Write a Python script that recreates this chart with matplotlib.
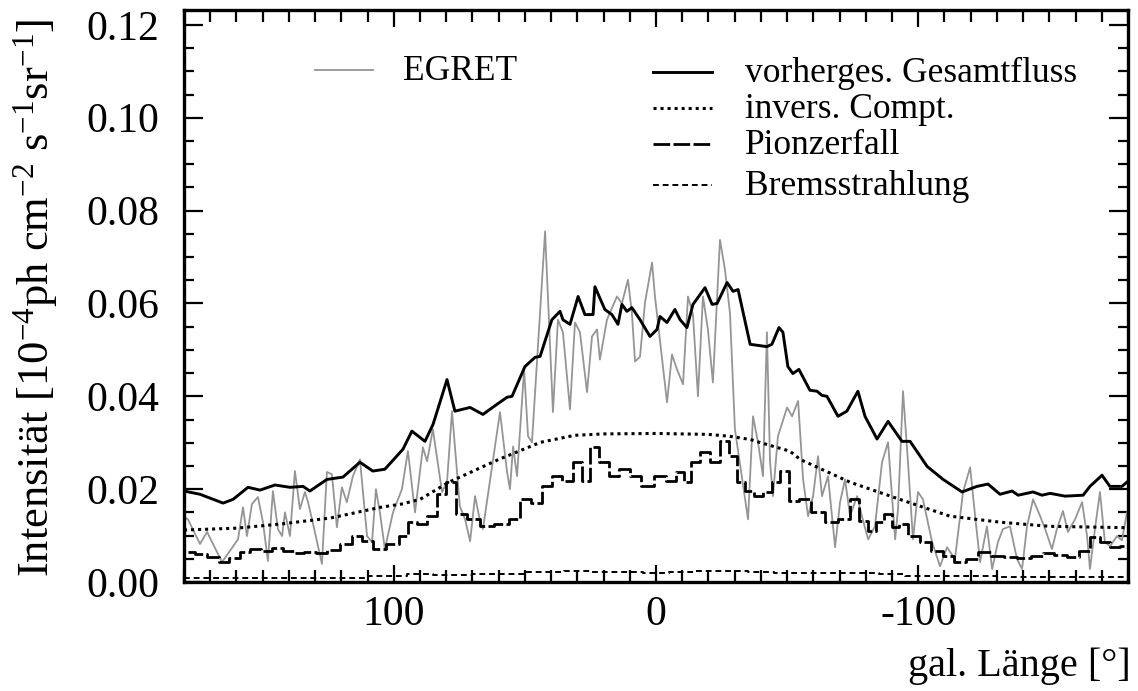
"""Galactic longitude profile: EGRET intensity vs. model components."""

import matplotlib

matplotlib.use("Agg")
import matplotlib.pyplot as plt
from matplotlib.ticker import FormatStrFormatter, MultipleLocator

plt.rcParams["font.family"] = ["Liberation Serif", "DejaVu Serif"]
plt.rcParams["mathtext.fontset"] = "custom"
plt.rcParams["mathtext.rm"] = "Liberation Serif"
plt.rcParams["mathtext.default"] = "rm"
plt.rcParams["axes.unicode_minus"] = False

# EGRET measured intensity (gal. longitude in deg, intensity)
egret_l = [180.0, 178.5, 173.9, 171.2, 169.3, 165.5, 162.5, 159.4, 157.5, 156.0,
           154.1, 151.8, 149.9, 148.0, 146.1, 144.2, 142.6, 141.5, 139.6, 137.7,
           135.8, 133.9, 132.7, 130.1, 127.4, 125.5, 123.6, 121.7, 119.8, 117.9,
           115.6, 112.9, 110.2, 108.3, 106.8, 105.3, 103.4, 100.3, 96.9, 94.6,
           91.9, 88.9, 87.3, 85.1, 81.6, 79.7, 77.8, 74.8, 72.8, 70.9,
           69.0, 67.1, 66.0, 59.5, 56.8, 55.7, 54.5, 53.0, 50.3, 48.8,
           47.3, 42.3, 39.3, 37.4, 35.5, 32.8, 30.9, 29.0, 26.3, 24.4,
           22.5, 21.4, 18.7, 14.9, 13.0, 10.7, 9.2, 8.0, 6.1, 4.2,
           1.5, 0.4, -4.2, -6.1, -8.0, -10.3, -12.2, -14.1, -16.0, -17.9,
           -19.8, -21.7, -24.4, -26.3, -28.2, -30.1, -35.1, -37.0, -38.9, -40.8,
           -42.3, -43.5, -44.6, -46.5, -50.0, -51.9, -54.2, -56.1, -58.0, -59.9,
           -61.8, -63.3, -65.6, -68.3, -70.2, -72.1, -74.0, -76.7, -78.6, -80.9,
           -83.5, -86.2, -88.5, -91.2, -92.3, -94.2, -96.1, -98.0, -99.9, -101.8,
           -105.3, -108.3, -111.0, -114.0, -117.1, -119.8, -121.7, -123.6, -126.2, -128.2,
           -130.4, -132.3, -135.0, -137.7, -139.6, -141.5, -143.8, -146.5, -148.4, -151.0,
           -152.9, -155.2, -157.1, -159.8, -162.5, -164.4, -165.5, -167.4, -169.3, -171.2,
           -173.2, -175.8, -177.7, -179.6]
egret_i = [0.0140, 0.0135, 0.0082, 0.0108, 0.0086, 0.0043, 0.0067, 0.0092, 0.0161, 0.0099,
           0.0168, 0.0183, 0.0129, 0.0045, 0.0196, 0.0114, 0.0099, 0.0150, 0.0099, 0.0239,
           0.0157, 0.0194, 0.0172, 0.0108, 0.0039, 0.0237, 0.0232, 0.0118, 0.0204, 0.0172,
           0.0228, 0.0264, 0.0099, 0.0086, 0.0200, 0.0150, 0.0071, 0.0150, 0.0200, 0.0282,
           0.0150, 0.0290, 0.0260, 0.0329, 0.0194, 0.0215, 0.0368, 0.0163, 0.0135, 0.0088,
           0.0185, 0.0131, 0.0114, 0.0366, 0.0237, 0.0200, 0.0292, 0.0228, 0.0458, 0.0314,
           0.0301, 0.0755, 0.0366, 0.0565, 0.0538, 0.0372, 0.0559, 0.0538, 0.0409, 0.0529,
           0.0544, 0.0479, 0.0565, 0.0615, 0.0600, 0.0651, 0.0580, 0.0475, 0.0485, 0.0602,
           0.0688, 0.0615, 0.0387, 0.0490, 0.0458, 0.0426, 0.0615, 0.0576, 0.0400, 0.0615,
           0.0544, 0.0430, 0.0737, 0.0673, 0.0580, 0.0329, 0.0135, 0.0357, 0.0301, 0.0228,
           0.0538, 0.0258, 0.0185, 0.0314, 0.0376, 0.0357, 0.0390, 0.0221, 0.0142, 0.0185,
           0.0271, 0.0185, 0.0228, 0.0075, 0.0172, 0.0221, 0.0142, 0.0185, 0.0140, 0.0092,
           0.0120, 0.0258, 0.0301, 0.0092, 0.0157, 0.0411, 0.0258, 0.0092, 0.0194, 0.0178,
           0.0086, 0.0034, 0.0075, 0.0049, 0.0194, 0.0247, 0.0142, 0.0043, 0.0120, 0.0028,
           0.0086, 0.0114, 0.0120, 0.0049, 0.0028, 0.0120, 0.0178, 0.0142, 0.0114, 0.0071,
           0.0114, 0.0153, 0.0108, 0.0135, 0.0172, 0.0099, 0.0028, 0.0114, 0.0194, 0.0086,
           0.0077, 0.0099, 0.0090, 0.0150]

# predicted total flux
total_l = [180.0, 173.9, 165.1, 161.3, 155.6, 151.0, 145.3, 139.6, 134.6, 132.0,
           125.5, 119.4, 112.9, 108.0, 103.4, 96.5, 93.1, 88.1, 85.0, 79.7,
           76.7, 70.9, 66.0, 60.6, 56.8, 54.9, 50.0, 46.1, 44.2, 39.7,
           36.6, 35.5, 32.8, 29.7, 27.1, 24.0, 23.3, 19.5, 16.8, 14.5,
           13.0, 11.1, 9.2, 6.1, 2.3, -0.4, -1.5, -4.2, -7.2, -9.2,
           -11.8, -14.1, -18.7, -21.4, -23.3, -27.1, -29.4, -31.3, -35.9, -42.3,
           -44.2, -46.9, -48.4, -50.3, -52.2, -54.5, -58.7, -61.4, -63.3, -65.2,
           -69.4, -72.8, -77.0, -79.7, -84.3, -88.5, -93.8, -96.9, -103.4, -109.5,
           -116.7, -122.4, -126.6, -131.2, -135.8, -138.1, -143.8, -147.2, -150.3, -156.0,
           -162.9, -165.5, -170.1, -173.1, -177.7, -180.0]
total_i = [0.0196, 0.0189, 0.0170, 0.0178, 0.0204, 0.0198, 0.0209, 0.0204, 0.0206, 0.0196,
           0.0221, 0.0226, 0.0258, 0.0239, 0.0243, 0.0286, 0.0325, 0.0303, 0.0340, 0.0436,
           0.0368, 0.0376, 0.0361, 0.0383, 0.0398, 0.0400, 0.0464, 0.0484, 0.0486, 0.0565,
           0.0583, 0.0565, 0.0555, 0.0615, 0.0576, 0.0576, 0.0636, 0.0587, 0.0576, 0.0555,
           0.0598, 0.0583, 0.0591, 0.0565, 0.0529, 0.0544, 0.0572, 0.0559, 0.0587, 0.0565,
           0.0548, 0.0598, 0.0634, 0.0598, 0.0600, 0.0645, 0.0626, 0.0630, 0.0512, 0.0507,
           0.0512, 0.0548, 0.0538, 0.0464, 0.0449, 0.0458, 0.0413, 0.0411, 0.0402, 0.0400,
           0.0357, 0.0368, 0.0411, 0.0357, 0.0308, 0.0346, 0.0303, 0.0303, 0.0249, 0.0221,
           0.0194, 0.0206, 0.0211, 0.0189, 0.0196, 0.0187, 0.0194, 0.0187, 0.0191, 0.0185,
           0.0187, 0.0206, 0.0230, 0.0206, 0.0206, 0.0217]

# inverse Compton component
ic_l = [180, 160, 143, 124, 105, 97, 90, 79, 60, 44, 31, 20, 0,
        -20, -28, -36, -40, -51, -55, -74, -93, -112, -131, -150, -180]
ic_i = [0.0112, 0.0116, 0.0125, 0.0138, 0.0161, 0.0168, 0.0178, 0.0215, 0.0264, 0.0301,
        0.0316, 0.0319, 0.0320, 0.0318, 0.0314, 0.0307, 0.0300, 0.0282, 0.0264, 0.0215,
        0.0178, 0.0142, 0.0129, 0.0120, 0.0117]

# pion decay component (bin centres)
pion_l = [178.5, 173.5, 168.6, 164.8, 160.6, 156.8, 152.9, 148.7, 144.2, 140.0,
          136.2, 132.0, 127.4, 123.2, 118.2, 113.7, 110.2, 105.3, 100.3, 96.1,
          93.1, 89.2, 85.4, 81.6, 78.2, 74.4, 69.8, 64.5, 58.7, 53.8,
          50.0, 45.4, 41.6, 37.8, 33.6, 29.7, 26.7, 23.3, 19.8, 16.4,
          12.2, 8.0, 3.1, -1.9, -6.1, -9.2, -11.8, -14.9, -18.7, -22.5,
          -26.3, -29.7, -32.4, -35.5, -38.9, -42.7, -46.1, -48.8, -52.6, -56.4,
          -61.8, -67.1, -71.7, -75.9, -79.3, -82.4, -85.4, -88.5, -91.2, -93.8,
          -98.4, -102.6, -107.2, -111.4, -115.9, -120.5, -125.1, -130.1, -135.0, -140.4,
          -145.3, -149.5, -154.1, -159.4, -163.6, -167.4, -171.2, -175.1, -178.5]
pion_i = [0.0065, 0.0060, 0.0054, 0.0043, 0.0052, 0.0065, 0.0071, 0.0067, 0.0073, 0.0067,
          0.0062, 0.0065, 0.0062, 0.0069, 0.0082, 0.0099, 0.0088, 0.0071, 0.0082, 0.0100,
          0.0129, 0.0125, 0.0142, 0.0189, 0.0215, 0.0146, 0.0135, 0.0120, 0.0125, 0.0135,
          0.0178, 0.0170, 0.0206, 0.0228, 0.0217, 0.0258, 0.0217, 0.0290, 0.0258, 0.0228,
          0.0243, 0.0228, 0.0206, 0.0228, 0.0217, 0.0237, 0.0215, 0.0258, 0.0280, 0.0258,
          0.0303, 0.0271, 0.0215, 0.0196, 0.0185, 0.0194, 0.0215, 0.0239, 0.0174, 0.0178,
          0.0150, 0.0129, 0.0135, 0.0178, 0.0131, 0.0110, 0.0129, 0.0146, 0.0118, 0.0125,
          0.0099, 0.0086, 0.0067, 0.0056, 0.0043, 0.0049, 0.0065, 0.0056, 0.0054, 0.0052,
          0.0056, 0.0062, 0.0058, 0.0054, 0.0067, 0.0097, 0.0086, 0.0075, 0.0077]

# bremsstrahlung component
brems_l = [180, 150, 120, 100, 90, 80, 60, 40, 30, 20, 10, 0, -10, -20, -30,
           -40, -50, -60, -70, -80, -90, -100, -120, -140, -160, -180]
brems_i = [0.0008, 0.0008, 0.0009, 0.0012, 0.0018, 0.0016, 0.0018, 0.0021, 0.0024, 0.0022,
           0.0022, 0.0020, 0.0022, 0.0024, 0.0024, 0.0021, 0.0020, 0.0020, 0.0020, 0.0019,
           0.0017, 0.0014, 0.0012, 0.0011, 0.0010, 0.0010]

labels = ["vorherges. Gesamtfluss", "invers. Compt.", "Pionzerfall", "Bremsstrahlung"]

fig = plt.figure(figsize=(11.38, 6.91), dpi=100)
ax = fig.add_axes([0.1617, 0.1577, 0.8295, 0.8278])

styles = {
    "egret": dict(color="#959595", lw=1.3, ls="-"),
    "total": dict(color="black", lw=2.1, ls="-"),
    "ic": dict(color="black", lw=2.2, ls=(0, (1.0, 1.3))),
    "pion": dict(color="black", lw=2.0, ls=(0, (6, 1.2))),
    "brems": dict(color="black", lw=1.4, ls=(0, (3, 2))),
}

ax.plot(egret_l, egret_i, **styles["egret"])
ax.plot(total_l, total_i, **styles["total"])
ax.plot(ic_l, ic_i, **styles["ic"])
ax.plot(pion_l, pion_i, drawstyle="steps-mid", **styles["pion"])
ax.plot(brems_l, brems_i, drawstyle="steps-mid", **styles["brems"])

ax.set_xlim(180, -180)
ax.set_ylim(0, 0.1232)

ax.xaxis.set_major_locator(MultipleLocator(100))
ax.xaxis.set_minor_locator(MultipleLocator(10))
ax.yaxis.set_major_locator(MultipleLocator(0.02))
ax.yaxis.set_minor_locator(MultipleLocator(0.005))
ax.yaxis.set_major_formatter(FormatStrFormatter("%.2f"))
ax.xaxis.set_major_formatter(FormatStrFormatter("%d"))

ax.tick_params(which="both", direction="in", top=True, right=True, width=1.6,
               labelsize=30)
ax.tick_params(axis="x", which="major", length=12.5, pad=10)
ax.tick_params(axis="x", which="minor", length=8.5)
ax.tick_params(axis="y", which="major", length=13.5, pad=18)
ax.tick_params(axis="y", which="minor", length=7)
for sp in ax.spines.values():
    sp.set_linewidth(2.4)

# legend, drawn by hand in axes fraction
def legend_row(x0, x1, xt, y, text, style):
    ax.plot([x0, x1], [y, y], transform=ax.transAxes, clip_on=False, **style)
    ax.text(xt, y - 0.017, text, transform=ax.transAxes, fontsize=25.5,
            va="baseline", ha="left")

legend_row(0.139, 0.200, 0.232, 0.895, "EGRET", styles["egret"])
rows_y = [0.892, 0.829, 0.766, 0.694]
for y, txt, key in zip(rows_y, labels, ["total", "ic", "pion", "brems"]):
    legend_row(0.497, 0.559, 0.594, y, txt, styles[key])

fig.text(0.031, 0.569, "Intensität [10$^{-4}$ph cm$^{-2}$ s$^{-1}$sr$^{-1}$]",
         rotation=90, ha="center", va="center", fontsize=32)
fig.text(0.994, 0.021, "gal. Länge [°]", ha="right", va="baseline", fontsize=29)

fig.savefig("out.png", dpi=100)
